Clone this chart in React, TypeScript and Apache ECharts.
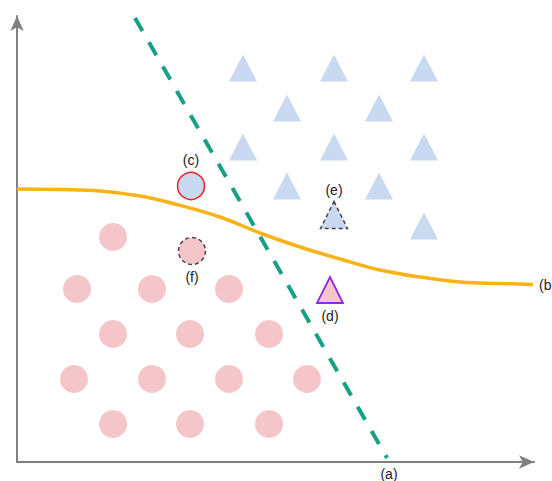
import React, { useEffect, useRef } from "react";
import * as echarts from "echarts";

// data coordinates (arbitrary units)
const pinkCircles: number[][] = [
  [96, 225], [60, 173], [135, 173], [212, 173], [96, 128], [173, 128], [252, 128],
  [57, 83], [135, 83], [212, 83], [290, 83], [96, 38], [173, 38], [252, 38],
];
const blueTriangles: number[][] = [
  [226, 394], [317, 394], [407, 394], [270, 354], [362, 354],
  [226, 315], [317, 315], [407, 315], [270, 276], [362, 276], [407, 236],
];
const pointC = [174, 276];
const pointF = [175, 211];
const pointE = [317, 247];
const pointD = [313, 172];
const lineA: number[][] = [[118, 444], [370, 4]];
const labelA = [372, 0];
const curveB: number[][] = [
  [0, 273], [43, 272.5], [83, 271], [123, 266], [158, 258], [203, 245], [243, 229],
  [283, 215], [323, 203], [363, 192], [403, 185], [443, 180], [483, 178.5], [516, 177.5],
];

const PINK = "#f5c6c9";
const BLUE = "#c9d9f1";
const FONT = "Liberation Sans";

export default function App() {
  const ref = useRef<HTMLDivElement>(null);
  useEffect(() => {
    if (!ref.current) return;
    const chart = echarts.init(ref.current, undefined, { renderer: "svg" });
    const lbl = (text: string, position: string, distance = 5) => ({
      show: true,
      formatter: text,
      position,
      distance,
      fontSize: 14,
      color: "#222",
      fontFamily: FONT,
    });
    const axisLine = {
      show: true,
      symbol: ["none", "arrow"],
      symbolSize: [10, 15],
      lineStyle: { color: "#808080", width: 2 },
    };
    chart.setOption({
      animation: false,
      grid: { left: 17, top: 16, right: 18, bottom: 19 },
      xAxis: {
        type: "value", min: 0, max: 517,
        axisLine, axisTick: { show: false }, axisLabel: { show: false }, splitLine: { show: false },
      },
      yAxis: {
        type: "value", min: 0, max: 446,
        axisLine, axisTick: { show: false }, axisLabel: { show: false }, splitLine: { show: false },
      },
      series: [
        {
          type: "scatter", data: pinkCircles, symbol: "circle", symbolSize: 28,
          itemStyle: { color: PINK, opacity: 1 }, silent: true,
        },
        {
          type: "scatter", data: blueTriangles, symbol: "triangle", symbolSize: [28, 27],
          itemStyle: { color: BLUE, opacity: 1 }, silent: true,
        },
        {
          type: "line", data: curveB, smooth: 0.4, symbol: "none",
          lineStyle: { color: "#fbb217", width: 3.5 },
          endLabel: { show: true, formatter: "(b)", distance: 6, fontSize: 14, color: "#222", fontFamily: FONT },
          z: 3, silent: true,
        },
        {
          type: "line", data: lineA, symbol: "none",
          lineStyle: { color: "#17a085", width: 4, type: [15, 13] },
          z: 4, silent: true,
        },
        {
          type: "scatter", symbol: "circle", symbolSize: 27,
          data: [{ value: pointC, label: lbl("(c)", "top") }],
          itemStyle: { color: BLUE, opacity: 1, borderColor: "#f01e23", borderWidth: 1.5 },
          z: 5, silent: true,
        },
        {
          type: "scatter", symbol: "circle", symbolSize: 27,
          data: [{ value: pointF, label: lbl("(f)", "bottom") }],
          itemStyle: { color: PINK, opacity: 1, borderColor: "#444", borderWidth: 1.5, borderType: [4, 3] },
          z: 5, silent: true,
        },
        {
          type: "scatter", symbol: "triangle", symbolSize: [27, 27],
          data: [{ value: pointE, label: lbl("(e)", "top", 4) }],
          itemStyle: { color: BLUE, opacity: 1, borderColor: "#444", borderWidth: 1.5, borderType: [4, 3] },
          z: 5, silent: true,
        },
        {
          type: "scatter", symbol: "triangle", symbolSize: [26, 26],
          data: [{ value: pointD, label: lbl("(d)", "bottom") }],
          itemStyle: { color: PINK, opacity: 1, borderColor: "#8a2be2", borderWidth: 1.8 },
          z: 5, silent: true,
        },
        {
          type: "scatter", symbol: "circle", symbolSize: 1, clip: false,
          data: [{ value: labelA, label: lbl("(a)", "bottom", 4) }],
          itemStyle: { color: "rgba(0,0,0,0)", opacity: 1 }, silent: true, z: 6,
        },
      ],
    });
    return () => chart.dispose();
  }, []);
  return (
    <div
      ref={ref}
      style={{ position: "fixed", left: 0, top: 0, width: 552, height: 481, background: "#fff" }}
    />
  );
}
